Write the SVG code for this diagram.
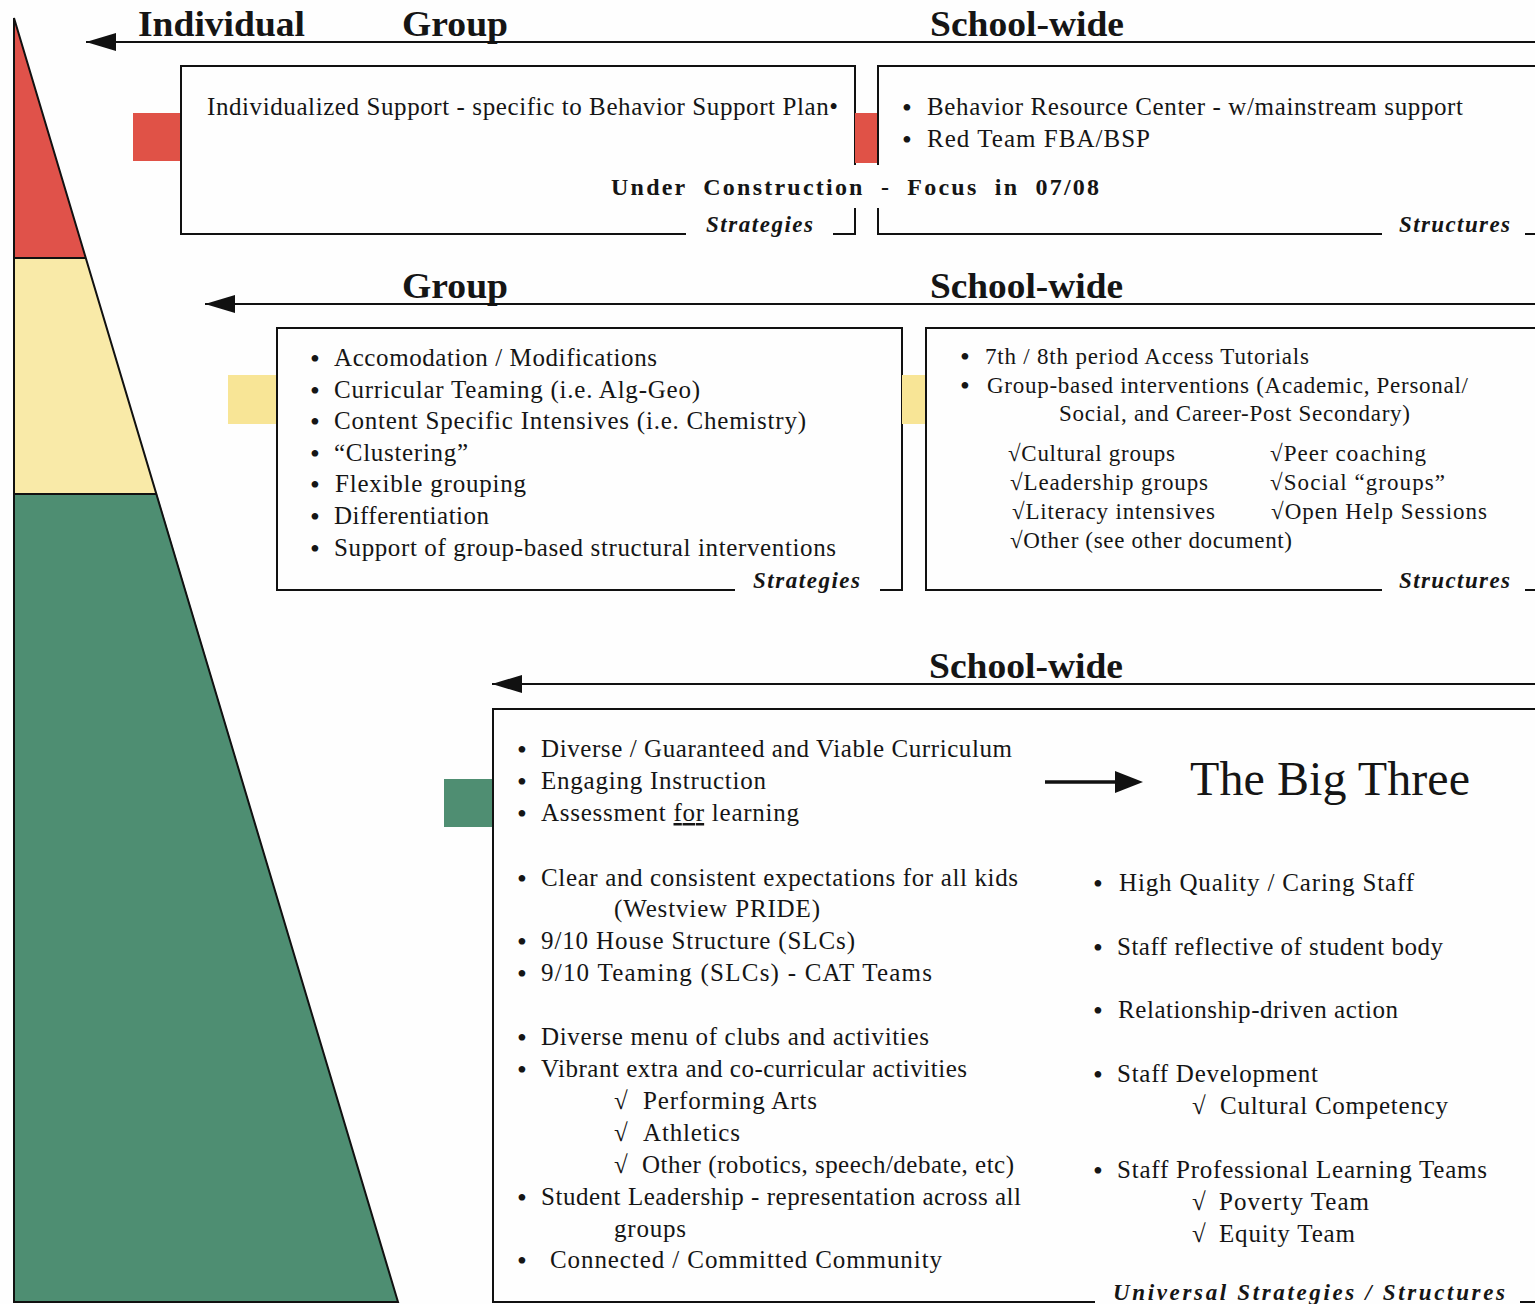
<svg xmlns="http://www.w3.org/2000/svg" width="1535" height="1304" viewBox="0 0 1535 1304">
<defs>
<style>
.t{font-family:"Liberation Serif","Times New Roman",serif;fill:#151515}
.b{font-size:25px}
.s{font-size:23px}
.bu{font-size:28px}
.h{font-size:36px;font-weight:bold}
.lab{font-size:23px;font-weight:bold;font-style:italic}
.ln{fill:none;stroke:#111;stroke-width:2}
.red{fill:#e05247}
.yel{fill:#f8e596}
.grn{fill:#4f8e72}
</style>
<marker id="ah" viewBox="0 0 30 18" refX="30" refY="9" markerWidth="30" markerHeight="18" markerUnits="userSpaceOnUse" orient="auto">
<path d="M0,0 L30,9 L0,18 z" fill="#111"/>
</marker>
<marker id="ah2" viewBox="0 0 28 22" refX="28" refY="11" markerWidth="28" markerHeight="22" markerUnits="userSpaceOnUse" orient="auto">
<path d="M0,0 L28,11 L0,22 z" fill="#111"/>
</marker>
</defs>
<rect width="1535" height="1304" fill="#fefefe"/>

<g id="pyramid">
<polygon points="14,18 86,258 14,258" fill="#e0524a"/>
<polygon points="14,258 86,258 157,494 14,494" fill="#f9eaa8"/>
<polygon points="14,494 157,494 398,1302 14,1302" fill="#4e8e72"/>
<path d="M14,258 H86 M14,494 H157" class="ln"/>
<path d="M14,18 L398,1302 H14 Z" class="ln"/>
</g>

<g id="headers-top">
<text class="t h" x="138" y="36" textLength="167" lengthAdjust="spacingAndGlyphs">Individual</text>
<text class="t h" x="402" y="36" textLength="106" lengthAdjust="spacingAndGlyphs">Group</text>
<text class="t h" x="930" y="36" textLength="194" lengthAdjust="spacingAndGlyphs">School-wide</text>
</g>
<g id="headers-mid">
<text class="t h" x="402" y="298" textLength="106" lengthAdjust="spacingAndGlyphs">Group</text>
<text class="t h" x="930" y="298" textLength="193" lengthAdjust="spacingAndGlyphs">School-wide</text>
</g>
<g id="headers-bottom">
<text class="t h" x="929" y="678" textLength="194" lengthAdjust="spacingAndGlyphs">School-wide</text>
</g>

<g id="connectors">
<line x1="1535" y1="42" x2="86" y2="42" class="ln" marker-end="url(#ah)"/>
<line x1="1535" y1="304" x2="205" y2="304" class="ln" marker-end="url(#ah)"/>
<line x1="1535" y1="684" x2="492" y2="684" class="ln" marker-end="url(#ah)"/>
<line x1="1045" y1="782" x2="1125" y2="782" stroke="#111" stroke-width="3.5"/>
<line x1="1115" y1="782" x2="1143" y2="782" stroke="none" stroke-width="1" marker-end="url(#ah2)"/>
</g>

<g id="indiv-strategies">
<rect class="red" x="133" y="113" width="48" height="48"/>
<path class="ln" d="M855,165 V66 H181 V234 H686 M833,234 H855 V208"/>
<text class="t b" x="207" y="115" textLength="631" lengthAdjust="spacing">Individualized Support - specific to Behavior Support Plan•</text>
<text class="t lab" x="706" y="232" textLength="107" lengthAdjust="spacing">Strategies</text>
</g>

<g id="indiv-structures">
<rect class="red" x="855" y="113" width="23" height="50"/>
<path class="ln" d="M878,165 V66 H1535 M878,208 V234 H1382 M1525,234 H1535"/>
<text class="t bu" x="902" y="117">•</text>
<text class="t b" x="927" y="115" textLength="536" lengthAdjust="spacing">Behavior Resource Center - w/mainstream support</text>
<text class="t bu" x="902" y="149">•</text>
<text class="t b" x="927" y="147" textLength="223" lengthAdjust="spacing">Red Team FBA/BSP</text>
<text class="t lab" x="1399" y="232" textLength="111" lengthAdjust="spacing">Structures</text>
</g>

<g id="under-construction">
<text class="t" x="611" y="195" font-size="24" font-weight="bold" textLength="488" lengthAdjust="spacing" word-spacing="8">Under Construction - Focus in 07/08</text>
</g>

<g id="group-strategies">
<rect class="yel" x="228" y="375" width="49" height="49"/>
<path class="ln" d="M735,590 H277 V328 H902 V590 H880"/>
<g class="t b">
<text class="bu" x="310" y="368">•</text><text x="334" y="366" textLength="323" lengthAdjust="spacing">Accomodation / Modifications</text>
<text class="bu" x="310" y="400">•</text><text x="334" y="398" textLength="366" lengthAdjust="spacing">Curricular Teaming (i.e. Alg-Geo)</text>
<text class="bu" x="310" y="431">•</text><text x="334" y="429" textLength="472" lengthAdjust="spacing">Content Specific Intensives (i.e. Chemistry)</text>
<text class="bu" x="310" y="463">•</text><text x="334" y="461" textLength="134" lengthAdjust="spacing">“Clustering”</text>
<text class="bu" x="310" y="494">•</text><text x="335" y="492" textLength="191" lengthAdjust="spacing">Flexible grouping</text>
<text class="bu" x="310" y="526">•</text><text x="334" y="524" textLength="155" lengthAdjust="spacing">Differentiation</text>
<text class="bu" x="310" y="558">•</text><text x="334" y="556" textLength="502" lengthAdjust="spacing">Support of group-based structural interventions</text>
</g>
<text class="t lab" x="753" y="588" textLength="107" lengthAdjust="spacing">Strategies</text>
</g>

<g id="group-structures">
<rect class="yel" x="902" y="375" width="24" height="49"/>
<path class="ln" d="M1535,328 H926 V590 H1382 M1525,590 H1535"/>
<g class="t s">
<text class="bu" x="960" y="366" font-size="25">•</text><text x="985" y="364" textLength="324" lengthAdjust="spacing">7th / 8th period Access Tutorials</text>
<text class="bu" x="960" y="395" font-size="25">•</text><text x="987" y="393" textLength="481" lengthAdjust="spacing">Group-based interventions (Academic, Personal/</text>
<text x="1059" y="421" textLength="351" lengthAdjust="spacing">Social, and Career-Post Secondary)</text>
<text x="1008" y="461" textLength="167" lengthAdjust="spacing">√Cultural groups</text>
<text x="1010" y="490" textLength="198" lengthAdjust="spacing">√Leadership groups</text>
<text x="1012" y="519" textLength="203" lengthAdjust="spacing">√Literacy intensives</text>
<text x="1010" y="548" textLength="282" lengthAdjust="spacing">√Other (see other document)</text>
<text x="1270" y="461" textLength="156" lengthAdjust="spacing">√Peer coaching</text>
<text x="1270" y="490" textLength="175" lengthAdjust="spacing">√Social “groups”</text>
<text x="1271" y="519" textLength="216" lengthAdjust="spacing">√Open Help Sessions</text>
</g>
<text class="t lab" x="1399" y="588" textLength="111" lengthAdjust="spacing">Structures</text>
</g>

<g id="universal">
<rect class="grn" x="444" y="779" width="49" height="48"/>
<path class="ln" d="M1535,709 H493 V1302 H1095 M1520,1302 H1535"/>
<g class="t b">
<text class="bu" x="517" y="759">•</text><text x="541" y="757" textLength="471" lengthAdjust="spacing">Diverse / Guaranteed and Viable Curriculum</text>
<text class="bu" x="517" y="791">•</text><text x="541" y="789" textLength="225" lengthAdjust="spacing">Engaging Instruction</text>
<text class="bu" x="517" y="823">•</text><text x="541" y="821" textLength="258" lengthAdjust="spacing">Assessment <tspan text-decoration="underline">for</tspan> learning</text>
<text class="bu" x="517" y="888">•</text><text x="541" y="886" textLength="477" lengthAdjust="spacing">Clear and consistent expectations for all kids</text>
<text x="614" y="917" textLength="206" lengthAdjust="spacing">(Westview PRIDE)</text>
<text class="bu" x="517" y="951">•</text><text x="541" y="949" textLength="314" lengthAdjust="spacing">9/10 House Structure (SLCs)</text>
<text class="bu" x="517" y="983">•</text><text x="541" y="981" textLength="391" lengthAdjust="spacing">9/10 Teaming (SLCs) - CAT Teams</text>
<text class="bu" x="517" y="1047">•</text><text x="541" y="1045" textLength="388" lengthAdjust="spacing">Diverse menu of clubs and activities</text>
<text class="bu" x="517" y="1079">•</text><text x="541" y="1077" textLength="426" lengthAdjust="spacing">Vibrant extra and co-curricular activities</text>
<text x="614" y="1109">√</text><text x="643" y="1109" textLength="174" lengthAdjust="spacing">Performing Arts</text>
<text x="614" y="1141">√</text><text x="643" y="1141" textLength="97" lengthAdjust="spacing">Athletics</text>
<text x="614" y="1173">√</text><text x="642" y="1173" textLength="372" lengthAdjust="spacing">Other (robotics, speech/debate, etc)</text>
<text class="bu" x="517" y="1207">•</text><text x="541" y="1205" textLength="480" lengthAdjust="spacing">Student Leadership - representation across all</text>
<text x="614" y="1237" textLength="72" lengthAdjust="spacing">groups</text>
<text class="bu" x="517" y="1270">•</text><text x="550" y="1268" textLength="392" lengthAdjust="spacing">Connected / Committed Community</text>
</g>
<text class="t" x="1190" y="795" font-size="48" textLength="280" lengthAdjust="spacing">The Big Three</text>
<g class="t b">
<text class="bu" x="1093" y="893">•</text><text x="1119" y="891" textLength="295" lengthAdjust="spacing">High Quality / Caring Staff</text>
<text class="bu" x="1093" y="957">•</text><text x="1117" y="955" textLength="326" lengthAdjust="spacing">Staff reflective of student body</text>
<text class="bu" x="1093" y="1020">•</text><text x="1118" y="1018" textLength="280" lengthAdjust="spacing">Relationship-driven action</text>
<text class="bu" x="1093" y="1084">•</text><text x="1117" y="1082" textLength="201" lengthAdjust="spacing">Staff Development</text>
<text x="1192" y="1114">√</text><text x="1220" y="1114" textLength="228" lengthAdjust="spacing">Cultural Competency</text>
<text class="bu" x="1093" y="1180">•</text><text x="1117" y="1178" textLength="370" lengthAdjust="spacing">Staff Professional Learning Teams</text>
<text x="1192" y="1210">√</text><text x="1219" y="1210" textLength="150" lengthAdjust="spacing">Poverty Team</text>
<text x="1192" y="1242">√</text><text x="1219" y="1242" textLength="136" lengthAdjust="spacing">Equity Team</text>
</g>
<text class="t lab" x="1113" y="1300" textLength="392" lengthAdjust="spacing">Universal Strategies / Structures</text>
</g>
</svg>
